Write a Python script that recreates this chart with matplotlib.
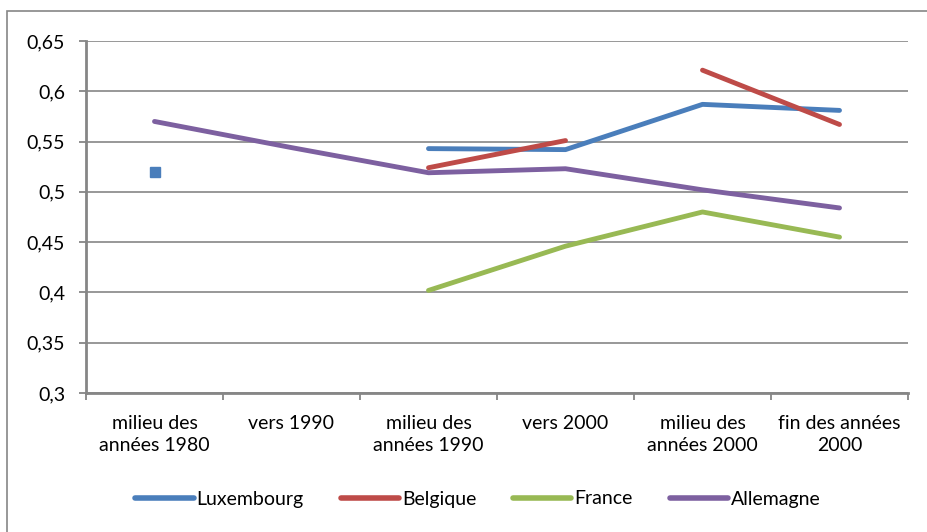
import numpy as np
import matplotlib
matplotlib.use("Agg")
import matplotlib.pyplot as plt
from matplotlib.lines import Line2D
from matplotlib.patches import Rectangle

categories = ["milieu des\nannées 1980", "vers 1990", "milieu des\nannées 1990",
              "vers 2000", "milieu des\nannées 2000", "fin des années\n2000"]
luxembourg = [0.520, np.nan, 0.543, 0.542, 0.587, 0.581]
# Belgique is drawn in two separate pieces in the source chart
belgique_a = [np.nan, np.nan, 0.524, 0.551, np.nan, np.nan]
belgique_b = [np.nan, np.nan, np.nan, np.nan, 0.621, 0.567]
france = [np.nan, np.nan, 0.402, 0.446, 0.480, 0.455]
allemagne = [0.570, 0.544, 0.519, 0.523, 0.502, 0.484]
series_names = ["Luxembourg", "Belgique", "France", "Allemagne"]
colors = ["#4A7EBB", "#BE4B48", "#98B954", "#7D60A0"]
yticks = [0.3, 0.35, 0.4, 0.45, 0.5, 0.55, 0.6, 0.65]
ytick_labels = ["0,3", "0,35", "0,4", "0,45", "0,5", "0,55", "0,6", "0,65"]

plt.rcParams['font.family'] = ['Lato', 'DejaVu Sans']
FS = 14

W, H = 928, 532
fig = plt.figure(figsize=(W / 100, H / 100), dpi=100)
ax = fig.add_axes([86 / W, 1 - 393 / H, (908 - 86) / W, (393 - 41) / H])

# outer frame
fig.patches.append(Rectangle((7 / W, -0.1), 1.2, 1 - 11 / H + 0.1, transform=fig.transFigure,
                             fill=False, edgecolor="#868686", linewidth=1.2))

x = np.arange(len(categories))
plot_series = [(luxembourg, colors[0]), (belgique_a, colors[1]), (belgique_b, colors[1]),
               (france, colors[2]), (allemagne, colors[3])]
for vals, c in plot_series:
    v = np.array(vals, dtype=float)
    ax.plot(x, v, color=c, linewidth=3.5, solid_capstyle='round', solid_joinstyle='round', zorder=3)
    for i in range(len(v)):
        if not np.isnan(v[i]):
            left = np.isnan(v[i - 1]) if i > 0 else True
            right = np.isnan(v[i + 1]) if i < len(v) - 1 else True
            if left and right:
                ax.plot([x[i]], [v[i]], marker='s', markersize=6.5, color=c, linestyle='none', zorder=3)

ax.set_xlim(-0.5, len(categories) - 0.5)
ax.set_ylim(0.3, 0.65)
ax.set_yticks(yticks)
ax.set_yticklabels(ytick_labels, fontsize=FS)
ax.set_xticks(x)
ax.set_xticklabels(categories, fontsize=FS, linespacing=1.35)
ax.set_xticks(np.arange(len(categories) + 1) - 0.5, minor=True)
ax.tick_params(axis='x', which='major', length=0, pad=16)
ax.tick_params(axis='x', which='minor', length=5, width=1.3, color="#868686", direction='out')
ax.tick_params(axis='y', length=5, width=1.3, color="#868686", pad=10)
ax.grid(axis='y', color="#868686", linewidth=1.2)
ax.set_axisbelow(True)
for s in ['top', 'right']:
    ax.spines[s].set_visible(False)
for s in ['left', 'bottom']:
    ax.spines[s].set_color("#868686")
    ax.spines[s].set_linewidth(2)

handles = [Line2D([0], [0], color=c, linewidth=4, solid_capstyle='round') for c in colors]
fig.legend(handles, series_names, loc='center', bbox_to_anchor=(478 / W, 1 - 499 / H),
           ncol=4, frameon=False, fontsize=FS, handlelength=3.0, handletextpad=0.15,
           columnspacing=1.9)

fig.savefig("out.png", dpi=100)
